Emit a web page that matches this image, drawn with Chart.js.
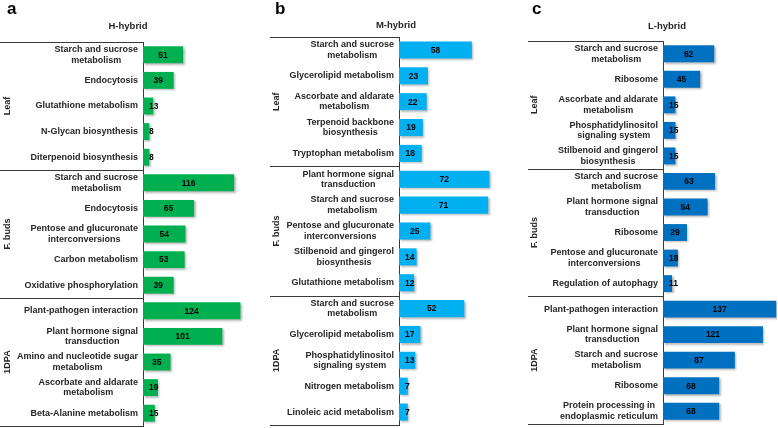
<!DOCTYPE html>
<html><head><meta charset="utf-8">
<script src="https://cdn.jsdelivr.net/npm/chart.js@4/dist/chart.umd.min.js"></script>
<style>
html,body{margin:0;padding:0;background:#fff;width:778px;height:428px;overflow:hidden}
canvas{position:absolute;top:0}
</style></head><body>
<canvas id="ca" width="255" height="428" style="left:0px"></canvas>
<canvas id="cb" width="260" height="428" style="left:255px"></canvas>
<canvas id="cc" width="263" height="428" style="left:515px"></canvas>
<script>
// ---- data ----
const groupNames = ["Leaf", "F. buds", "1DPA"];
const groupSize = 5;

const hTitle = "H-hybrid";
const hLabels = [
  ["Starch and sucrose", "metabolism"], "Endocytosis", "Glutathione metabolism", "N-Glycan biosynthesis", "Diterpenoid biosynthesis",
  ["Starch and sucrose", "metabolism"], "Endocytosis", ["Pentose and glucuronate", "interconversions"], "Carbon metabolism", "Oxidative phosphorylation",
  "Plant-pathogen interaction", ["Plant hormone signal", "transduction"], ["Amino and nucleotide sugar", "metabolism"], ["Ascorbate and aldarate", "metabolism"], "Beta-Alanine metabolism"
];
const hValues = [51, 39, 13, 8, 8, 116, 65, 54, 53, 39, 124, 101, 35, 19, 15];

const mTitle = "M-hybrid";
const mLabels = [
  ["Starch and sucrose", "metabolism"], "Glycerolipid metabolism", ["Ascorbate and aldarate", "metabolism"], ["Terpenoid backbone", "biosynthesis"], "Tryptophan metabolism",
  ["Plant hormone signal", "transduction"], ["Starch and sucrose", "metabolism"], ["Pentose and glucuronate", "interconversions"], ["Stilbenoid and gingerol", "biosynthesis"], "Glutathione metabolism",
  ["Starch and sucrose", "metabolism"], "Glycerolipid metabolism", ["Phosphatidylinositol", "signaling system"], "Nitrogen metabolism", "Linoleic acid metabolism"
];
const mValues = [58, 23, 22, 19, 18, 72, 71, 25, 14, 12, 52, 17, 13, 7, 7];

const lTitle = "L-hybrid";
const lLabels = [
  ["Starch and sucrose", "metabolism"], "Ribosome", ["Ascorbate and aldarate", "metabolism"], ["Phosphatidylinositol", "signaling system"], ["Stilbenoid and gingerol", "biosynthesis"],
  ["Starch and sucrose", "metabolism"], ["Plant hormone signal", "transduction"], "Ribosome", ["Pentose and glucuronate", "interconversions"], "Regulation of autophagy",
  "Plant-pathogen interaction", ["Plant hormone signal", "transduction"], ["Starch and sucrose", "metabolism"], "Ribosome", ["Protein processing in", "endoplasmic reticulum"]
];
const lValues = [62, 45, 15, 15, 15, 63, 54, 29, 18, 11, 137, 121, 87, 68, 68];

// ---- drawing ----
const FONT = '"Liberation Sans", Arial, sans-serif';
const TEXT = '#262626';
const LINE = '#3a3a3a';

function decorPlugin(o) {
  return {
    id: 'decor',
    beforeDatasetsDraw(chart) {
      const ctx = chart.ctx;
      ctx.save();
      ctx.shadowColor = 'rgba(0,0,0,0.28)';
      ctx.shadowOffsetX = 1.5;
      ctx.shadowOffsetY = 1.5;
      ctx.shadowBlur = 2;
    },
    afterDatasetsDraw(chart) {
      chart.ctx.restore();
    },
    afterDraw(chart) {
      const ctx = chart.ctx;
      const ys = chart.scales.y;
      const ca = chart.chartArea;
      const labels = chart.data.labels;
      ctx.save();
      // category labels
      ctx.font = 'bold 9px ' + FONT;
      ctx.fillStyle = TEXT;
      ctx.textAlign = 'center';
      ctx.textBaseline = 'middle';
      const right = ca.left - 5;
      labels.forEach((lbl, i) => {
        const lines = Array.isArray(lbl) ? lbl : [lbl];
        const w = Math.max(...lines.map(s => ctx.measureText(s).width));
        const cx = right - w / 2;
        const y = ys.getPixelForValue(i);
        lines.forEach((s, j) => {
          ctx.fillText(s, cx, y + (j - (lines.length - 1) / 2) * 10.5);
        });
      });
      // horizontal lines
      ctx.strokeStyle = LINE;
      ctx.lineWidth = 1;
      const ylines = [ca.top];
      for (let g = 1; g < groupNames.length; g++) {
        ylines.push((ys.getPixelForValue(g * groupSize - 1) + ys.getPixelForValue(g * groupSize)) / 2);
      }
      ylines.push(ca.bottom);
      ylines.forEach(y => {
        const yy = Math.round(y) + 0.5;
        ctx.beginPath();
        ctx.moveTo(o.lineStart, yy);
        ctx.lineTo(ca.left, yy);
        ctx.stroke();
      });
      // group labels
      ctx.font = 'bold 9px ' + FONT;
      groupNames.forEach((g, k) => {
        const y = (ys.getPixelForValue(k * groupSize) + ys.getPixelForValue(k * groupSize + groupSize - 1)) / 2;
        ctx.save();
        ctx.translate(o.groupX, y);
        ctx.rotate(-Math.PI / 2);
        ctx.fillText(g, 0, 0);
        ctx.restore();
      });
      // values
      ctx.font = 'bold 8.5px ' + FONT;
      ctx.fillStyle = '#000';
      ctx.textAlign = 'left';
      const meta = chart.getDatasetMeta(0);
      meta.data.forEach((bar, i) => {
        const v = String(chart.data.datasets[0].data[i]);
        const w = ctx.measureText(v).width;
        const c = (bar.x + bar.base) / 2;
        const left = Math.max(c - w / 2, bar.base + 6);
        ctx.fillText(v, left, bar.y + 0.5);
      });
      // title & letter
      ctx.textAlign = 'center';
      ctx.fillStyle = TEXT;
      ctx.font = 'bold 9.5px ' + FONT;
      ctx.fillText(o.title, o.titleX, o.titleY);
      ctx.textAlign = 'left';
      ctx.fillStyle = '#000';
      ctx.font = 'bold 17px ' + FONT;
      ctx.textBaseline = 'alphabetic';
      ctx.fillText(o.letter, o.letterX, 14);
      ctx.restore();
    }
  };
}

function makePanel(id, o) {
  return new Chart(document.getElementById(id), {
    type: 'bar',
    data: {
      labels: o.labels,
      datasets: [{ data: o.values, backgroundColor: o.color, borderWidth: 0, barPercentage: 0.66, categoryPercentage: 1 }]
    },
    options: {
      indexAxis: 'y',
      responsive: false,
      animation: false,
      layout: { padding: { top: o.padTop, bottom: o.padBottom, left: 0, right: o.padRight } },
      plugins: { legend: { display: false }, tooltip: { enabled: false } },
      scales: {
        x: { display: false, min: 0, max: o.xMax },
        y: {
          ticks: { display: false },
          grid: { display: false, drawTicks: false },
          border: { display: true, color: LINE, width: 1 },
          afterFit(s) { s.width = o.axisWidth; }
        }
      }
    },
    plugins: [decorPlugin(o)]
  });
}

makePanel('ca', { labels: hLabels, values: hValues, title: hTitle, letter: 'a', color: '#00B050',
  xMax: 140, axisWidth: 143, padTop: 42, padBottom: 2, padRight: 2,
  lineStart: 0, groupX: 8, titleX: 128, titleY: 26, letterX: 7 });
makePanel('cb', { labels: mLabels, values: mValues, title: mTitle, letter: 'b', color: '#00B0F0',
  xMax: 90, axisWidth: 144, padTop: 37, padBottom: 3, padRight: 3,
  lineStart: 15, groupX: 22, titleX: 141, titleY: 25.5, letterX: 20 });
makePanel('cc', { labels: lLabels, values: lValues, title: lTitle, letter: 'c', color: '#0070C0',
  xMax: 138, axisWidth: 148, padTop: 41, padBottom: 4, padRight: 1,
  lineStart: 13, groupX: 20, titleX: 152, titleY: 26, letterX: 17 });
</script>
</body></html>
